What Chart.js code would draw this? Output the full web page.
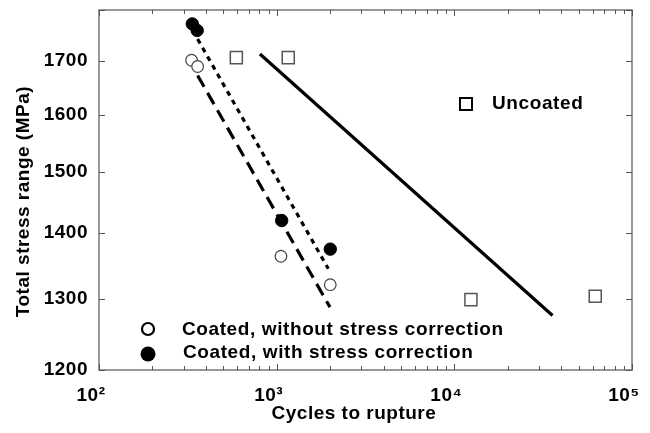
<!DOCTYPE html>
<html>
<head>
<meta charset="utf-8">
<script src="https://cdn.jsdelivr.net/npm/chart.js@4.4.1/dist/chart.umd.min.js"></script>
<style>
  html, body { margin: 0; padding: 0; background: #fff; }
  #wrap { width: 650px; height: 433px; }
</style>
</head>
<body>
<div id="wrap"><canvas id="stress-chart" width="650" height="433"></canvas></div>
<script>
// Data (cycles to rupture, total stress range MPa)
const coatedNoCorrN = [332, 359, 1057, 2003];
const coatedNoCorrS = [1701, 1689, 1364, 1321];
const coatedCorrN = [335, 357, 1067, 2003];
const coatedCorrS = [1772, 1759, 1420, 1375];
const uncoatedN = [593, 1162, 12400, 62100];
const uncoatedS = [1706, 1706, 1299, 1304];

// fitted trend lines (end points)
const fitUncoatedN = [805, 35700];
const fitUncoatedS = [1713, 1276];
const fitCorrN = [359, 1952];
const fitCorrS = [1742, 1345];
const fitNoCorrN = [359, 1995];
const fitNoCorrS = [1672, 1288];

// axes
const xTickValues = [100, 1000, 10000, 100000];
const xTickLabels = ["10²", "10³", "10⁴", "10⁵"];
const yTickValues = [1200, 1300, 1400, 1500, 1600, 1700, 1800];
const yTickLabels = ["1200", "1300", "1400", "1500", "1600", "1700", ""];

const legendLabels = ["Coated, without stress correction", "Coated, with stress correction", "Uncoated"];

const FONT = "'Liberation Sans', Arial, sans-serif";
const FSIZE = 19;

const pts = (xs, ys) => xs.map((x, i) => ({ x: x, y: ys[i] }));

// frame + inward tick marks + the two in-plot legends
const framePlugin = {
  id: "frame",
  beforeDraw(chart) {
    // the original lettering is a touch wider than Liberation Sans
    chart.ctx.letterSpacing = "0.5px";
  },
  beforeDatasetsDraw(chart) {
    const { ctx, chartArea: a, scales } = chart;
    ctx.save();
    ctx.strokeStyle = "#777";
    ctx.lineWidth = 1.5;
    ctx.strokeRect(a.left, a.top, a.right - a.left, a.bottom - a.top);
    ctx.strokeStyle = "#555";
    ctx.lineWidth = 1;
    ctx.beginPath();
    for (let d = 0; d < xTickValues.length; d++) {
      const base = xTickValues[d];
      const px = Math.round(scales.x.getPixelForValue(base)) + 0.5;
      ctx.moveTo(px, a.bottom); ctx.lineTo(px, a.bottom - 6);
      ctx.moveTo(px, a.top); ctx.lineTo(px, a.top + 6);
      if (d < xTickValues.length - 1) {
        for (let m = 2; m <= 9; m++) {
          const mx = Math.round(scales.x.getPixelForValue(base * m)) + 0.5;
          ctx.moveTo(mx, a.bottom); ctx.lineTo(mx, a.bottom - 4);
          ctx.moveTo(mx, a.top); ctx.lineTo(mx, a.top + 4);
        }
      }
    }
    yTickValues.forEach(v => {
      const py = Math.round(scales.y.getPixelForValue(v)) + 0.5;
      ctx.moveTo(a.left, py); ctx.lineTo(a.left + 6, py);
      ctx.moveTo(a.right, py); ctx.lineTo(a.right - 6, py);
    });
    ctx.stroke();
    ctx.restore();
  },
  afterDraw(chart) {
    const { ctx, chartArea: a } = chart;
    ctx.save();
    ctx.letterSpacing = "0.6px";
    ctx.font = "bold " + FSIZE + "px " + FONT;
    ctx.fillStyle = "#000";
    ctx.textBaseline = "middle";
    ctx.textAlign = "left";
    // bottom-left legend
    const lx = a.left + 49, ly1 = a.top + 319, ly2 = a.top + 344;
    ctx.lineWidth = 2.2;
    ctx.strokeStyle = "#000";
    ctx.beginPath(); ctx.arc(lx, ly1, 6, 0, Math.PI * 2); ctx.stroke();
    ctx.beginPath(); ctx.arc(lx, ly2, 7.5, 0, Math.PI * 2); ctx.fill();
    ctx.fillText(legendLabels[0], lx + 34, ly1 + 1);
    ctx.fillText(legendLabels[1], lx + 35, ly2 - 1);
    // upper-right legend
    const ux = a.left + 367, uy = a.top + 94;
    ctx.lineWidth = 2;
    ctx.strokeRect(ux - 6, uy - 6, 12, 12);
    ctx.fillText(legendLabels[2], ux + 26, uy);
    ctx.restore();
  }
};

const ctx = document.getElementById("stress-chart").getContext("2d");
new Chart(ctx, {
  type: "scatter",
  data: {
    datasets: [
      {
        label: "fit uncoated",
        data: pts(fitUncoatedN, fitUncoatedS),
        showLine: true, borderColor: "#000", borderWidth: 3.2,
        pointRadius: 0,
      },
      {
        label: "fit coated, with correction",
        data: pts(fitCorrN, fitCorrS),
        showLine: true, borderColor: "#000", borderWidth: 3.2,
        borderDash: [5, 5], pointRadius: 0,
      },
      {
        label: "fit coated, without correction",
        data: pts(fitNoCorrN, fitNoCorrS),
        showLine: true, borderColor: "#000", borderWidth: 3.2,
        borderDash: [13, 7], pointRadius: 0,
      },
      {
        label: legendLabels[0],
        data: pts(coatedNoCorrN, coatedNoCorrS),
        pointStyle: "circle", pointRadius: 5.8,
        backgroundColor: "#fff", borderColor: "#444", borderWidth: 1.2,
      },
      {
        label: legendLabels[1],
        data: pts(coatedCorrN, coatedCorrS),
        pointStyle: "circle", pointRadius: 6.2,
        backgroundColor: "#000", borderColor: "#000", borderWidth: 1,
      },
      {
        label: legendLabels[2],
        data: pts(uncoatedN, uncoatedS),
        pointStyle: "rect", pointRadius: 8.5,
        backgroundColor: "#fff", borderColor: "#555", borderWidth: 1.5,
      },
    ],
  },
  options: {
    responsive: false,
    animation: false,
    layout: { padding: { top: 8, right: 18, left: 0, bottom: 0 } },
    plugins: {
      legend: { display: false },
      tooltip: { enabled: false },
    },
    scales: {
      x: {
        type: "logarithmic",
        min: 100, max: 100000,
        afterBuildTicks: s => { s.ticks = xTickValues.map(v => ({ value: v })); },
        afterFit: s => { s.height = 63; s.paddingLeft = 0; s.paddingRight = 0; },
        grid: { display: false, drawTicks: false },
        border: { display: false },
        ticks: {
          color: "#000",
          font: { family: FONT, size: FSIZE, weight: "bold" },
          padding: 14,
          labelOffset: -8,
          maxRotation: 0,
          autoSkip: false,
          callback: (v, i) => xTickLabels[i],
        },
        title: {
          display: true, text: "Cycles to rupture    ", color: "#000",
          font: { family: FONT, size: FSIZE, weight: "bold" },
          padding: { top: 0, bottom: 8 },
        },
      },
      y: {
        type: "logarithmic",
        min: 1200, max: 1800,
        afterBuildTicks: s => { s.ticks = yTickValues.map(v => ({ value: v })); },
        afterFit: s => { s.width = 99; s.paddingTop = 0; s.paddingBottom = 0; },
        grid: { display: false, drawTicks: false },
        border: { display: false },
        ticks: {
          color: "#000",
          font: { family: FONT, size: FSIZE, weight: "bold" },
          padding: 11,
          autoSkip: false,
          callback: (v, i) => yTickLabels[i],
        },
        title: {
          display: true, text: "Total stress range (MPa)    ", color: "#000",
          font: { family: FONT, size: FSIZE, weight: "bold" },
          padding: { top: 12, bottom: 0 },
        },
      },
    },
  },
  plugins: [framePlugin],
});
</script>
</body>
</html>
